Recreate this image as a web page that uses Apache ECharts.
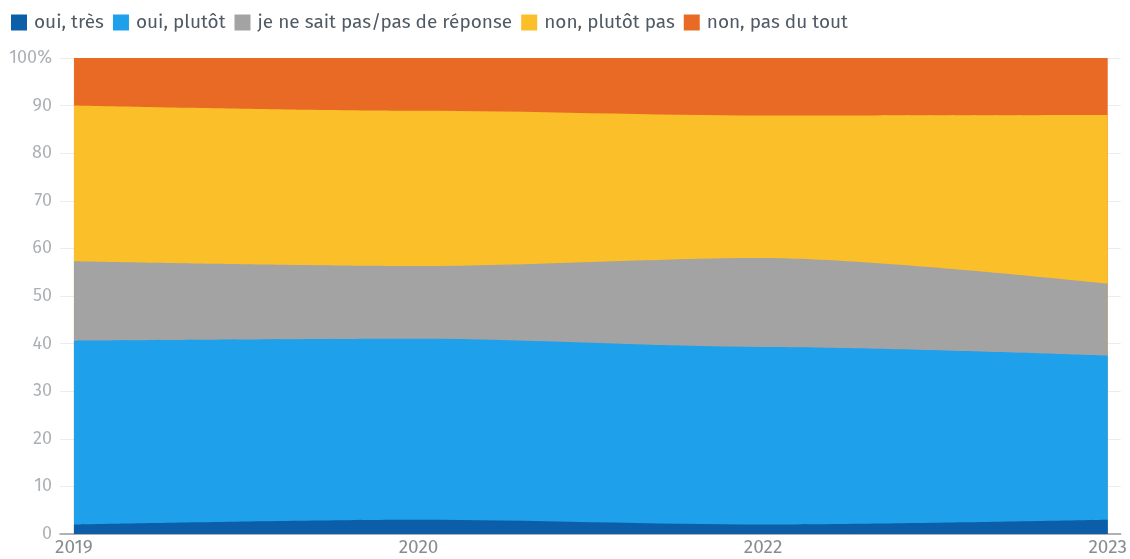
<!DOCTYPE html>
<html>
<head>
<meta charset="utf-8">
<script src="https://cdn.jsdelivr.net/npm/echarts@6/dist/echarts.min.js"></script>
<style>
  html, body { margin: 0; padding: 0; background: #fff; }
  #chart { width: 1130px; height: 559px; }
</style>
</head>
<body>
<div id="chart"></div>
<script>
// years shown on the x axis (evenly spaced, 2021 missing)
var years = ['2019', '2020', '2022', '2023'];
var yTicks = [0, 10, 20, 30, 40, 50, 60, 70, 80, 90, 100];

// shares in %
var ouiTres = [2, 3, 2, 3];
var ouiPlutot = [38.6, 38, 37.3, 34.5];
var nsp = [16.7, 15.3, 18.7, 15.1];
var nonPlutot = [32.7, 32.6, 29.9, 35.4];
var nonPasDuTout = [10, 11.1, 12.1, 12];

var names = ['oui, très', 'oui, plutôt', 'je ne sait pas/pas de réponse', 'non, plutôt pas', 'non, pas du tout'];
var colors = ['#0d5ea9', '#1ea0ea', '#a3a3a3', '#fbbf2a', '#e96a24'];
var values = [ouiTres, ouiPlutot, nsp, nonPlutot, nonPasDuTout];

var font = 'Fira Sans, "Noto Sans", Roboto, sans-serif';

var chart = echarts.init(document.getElementById('chart'));

// running totals, so each layer is filled from the axis up to its cumulative top;
// upper layers are drawn first and the lower ones painted over them
var cum = years.map(function () { return 0; });
var tops = [];
for (var i = 0; i < values.length; i++) {
  cum = cum.map(function (c, k) { return c + values[i][k]; });
  tops.push(cum.slice());
}

var series = [];
for (var j = names.length - 1; j >= 0; j--) {
  series.push({
    name: names[j],
    type: 'line',
    smooth: 0.3,
    smoothMonotone: 'x',
    symbol: 'none',
    lineStyle: { width: 0 },
    areaStyle: { color: colors[j], opacity: 1, origin: 'start' },
    itemStyle: { color: colors[j] },
    data: tops[j].map(function (v, k) { return [k, v]; })
  });
}

chart.setOption({
  animation: false,
  textStyle: { fontFamily: font },
  legend: {
    left: 6,
    top: 8,
    itemWidth: 16,
    itemHeight: 16,
    itemGap: 9,
    icon: 'rect',
    textStyle: { fontSize: 19, color: '#4f5a64', fontFamily: font, padding: [0, 0, 0, 2] },
    data: names
  },
  grid: { left: 60, right: 7, top: 58, bottom: 25 },
  xAxis: {
    type: 'value',
    min: -0.0405,
    max: 3.0376,
    splitLine: { show: false },
    axisTick: { show: false },
    axisLine: { show: true, lineStyle: { color: '#9a9a9a', width: 1.5 } },
    axisLabel: {
      customValues: [0, 1, 2, 3],
      formatter: function (v) { return years[Math.round(v)]; },
      fontSize: 19,
      color: '#878c91',
      margin: 4,
      fontFamily: font
    }
  },
  yAxis: {
    type: 'value',
    min: 0,
    max: 100,
    interval: 10,
    axisLine: { show: false },
    axisTick: { show: false },
    splitLine: { lineStyle: { color: '#ececec' } },
    axisLabel: {
      fontSize: 18,
      color: '#adb1b5',
      margin: 8,
      fontFamily: font,
      formatter: function (v) { return v === yTicks[yTicks.length - 1] ? v + '%' : v; }
    }
  },
  series: series
});
</script>
</body>
</html>
